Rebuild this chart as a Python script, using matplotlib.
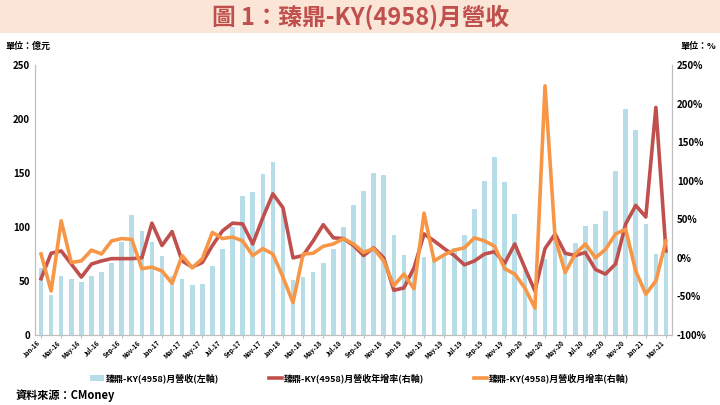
import numpy as np
import pandas as pd
import matplotlib
matplotlib.use('Agg')
import matplotlib.pyplot as plt
from matplotlib import font_manager

# leia CJK font, mis on tegelikult installitud
cjk = [f.name for f in font_manager.fontManager.ttflist if 'CJK' in f.name]
eelistus = ['Noto Sans CJK TC', 'Noto Sans CJK JP', 'Noto Sans CJK SC', 'Noto Sans CJK KR']
valitud = next((n for n in eelistus if n in cjk), cjk[0] if cjk else 'DejaVu Sans')
plt.rcParams['font.family'] = [valitud, 'DejaVu Sans']

# --- Andmed ---
kuud = pd.date_range('2016-01-01', '2021-03-01', freq='MS')
kuu_sildid = [d.strftime('%b-%y') for d in kuud]

revenue = [62, 37, 55, 52, 49, 55, 58, 67, 86, 111, 96, 86,
           73, 55, 52, 46, 47, 64, 80, 100, 129, 132, 149, 160,
           115, 51, 54, 58, 67, 80, 100, 120, 133, 150, 148, 93,
           74, 62, 72, 70, 74, 81, 93, 117, 143, 165, 142, 112,
           60, 26, 70, 91, 76, 85, 101, 103, 115, 152, 209, 190,
           103, 75, 79]
yoy = [-27, 6, 9, -8, -25, -8, -4, -1, -1, -1, 0, 45,
       16, 34, -4, -12, -6, 16, 35, 45, 44, 18, 52, 83,
       65, 0, 3, 22, 43, 26, 25, 16, 3, 13, 0, -42,
       -39, -13, 31, 22, 12, 3, -9, -4, 5, 8, -7, 18,
       -13, -43, 12, 31, 6, 3, 7, -15, -21, -8, 44, 68,
       53, 195, 9]
mom = [5, -43, 48, -6, -4, 10, 5, 22, 25, 24, -14, -12,
       -17, -33, 3, -13, -1, 33, 25, 27, 22, 3, 12, 5,
       -25, -58, 5, 6, 15, 18, 25, 18, 7, 12, -4, -36,
       -21, -40, 58, -4, 4, 10, 13, 26, 22, 15, -14, -21,
       -39, -65, 223, 26, -19, 5, 18, 0, 11, 31, 37, -17,
       -47, -30, 22]

nimi = '臻鼎-KY(4958)'
x = np.arange(len(kuud))

fig = plt.figure(figsize=(7.2, 4.05), dpi=100)
fig.patch.set_facecolor('white')

# pealkirja riba
fig.patches.append(plt.Rectangle((0, 1 - 33 / 405), 1, 33 / 405, transform=fig.transFigure,
                                 facecolor='#fbe5d6', edgecolor='none'))
fig.text(0.5, 1 - 17 / 405, '圖 1：臻鼎-KY(4958)月營收', ha='center', va='center',
         fontsize=17, fontweight='bold', color='#c0504d')
fig.text(0.008, 1 - 46 / 405, '單位：億元', fontsize=6.5, fontweight='bold', va='center')
fig.text(0.995, 1 - 46 / 405, '單位：%', fontsize=6.5, fontweight='bold', va='center', ha='right')

ax = fig.add_axes([35 / 720, 1 - 335 / 405, 637 / 720, 270 / 405])
ax2 = ax.twinx()

ax.bar(x, revenue, width=0.45, color='#b7dde8', label=nimi + '月營收(左軸)')
ax2.plot(x, yoy, color='#c0504d', lw=2.6, label=nimi + '月營收年增率(右軸)')
ax2.plot(x, mom, color='#f79646', lw=2.6, label=nimi + '月營收月增率(右軸)')

ax.set_xlim(-0.6, len(x) - 0.4)
ax.set_ylim(0, 250)
ax.set_yticks(range(0, 251, 50))
ax2.set_ylim(-100, 250)
ax2.set_yticks(range(-100, 251, 50))
ax2.set_yticklabels([f'{v}%' for v in range(-100, 251, 50)])

ax.set_xticks(x[::2])
ax.set_xticklabels(kuu_sildid[::2], rotation=45, ha='right', fontsize=4.5, fontweight='bold')
ax.tick_params(axis='x', length=2, pad=1, color='#bfbfbf')
ax.tick_params(axis='y', labelsize=7, length=0)
ax2.tick_params(axis='y', labelsize=7, length=0)
for t in ax.get_yticklabels() + ax2.get_yticklabels():
    t.set_fontweight('bold')

for a in (ax, ax2):
    a.spines['top'].set_visible(False)
    for s in ('left', 'right', 'bottom'):
        a.spines[s].set_color('#bfbfbf')

handles = ax.get_legend_handles_labels()[0] + ax2.get_legend_handles_labels()[0]
labels = ax.get_legend_handles_labels()[1] + ax2.get_legend_handles_labels()[1]
fig.legend(handles, labels, loc='center', bbox_to_anchor=(0.5, 1 - 378 / 405), ncol=3,
           frameon=False, handlelength=1.5, columnspacing=5.5, handletextpad=0.2,
           prop={'family': valitud, 'weight': 'bold', 'size': 6.5})

fig.text(0.022, 1 - 395 / 405, '資料來源：CMoney', fontsize=8, fontweight='bold', va='center')

fig.savefig('out.png', dpi=100)
